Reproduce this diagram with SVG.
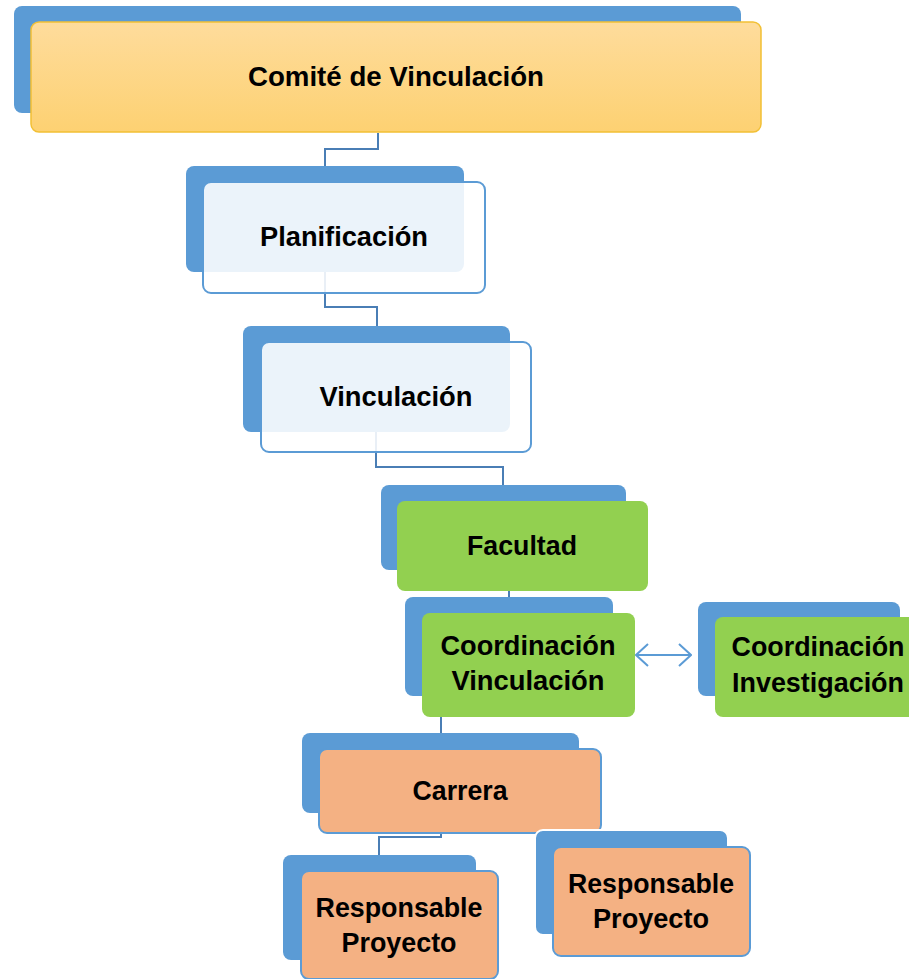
<svg xmlns="http://www.w3.org/2000/svg" width="909" height="979" viewBox="0 0 909 979">
<style>
.back{fill:#5B9BD5}
.glass{fill:#FFFFFF;fill-opacity:0.88;stroke:#5B9BD5;stroke-width:2}
.green{fill:#92D050}
.orange{fill:#F4B183;stroke:#5B9BD5;stroke-width:2}
.conn{fill:none;stroke:#4A7EB5;stroke-width:2}
.t{font-family:"Liberation Sans",Arial,sans-serif;font-weight:bold;font-size:27px;fill:#000;text-anchor:middle}
</style>
<defs>
<linearGradient id="gold" x1="0" y1="0" x2="0" y2="1">
<stop offset="0" stop-color="#FEDC9C"/>
<stop offset="1" stop-color="#FDD172"/>
</linearGradient>
<marker id="ah" viewBox="0 0 14 24" refX="13" refY="12" markerWidth="14" markerHeight="24" markerUnits="userSpaceOnUse" orient="auto-start-reverse">
<path d="M1,1 L13,12 L1,23" fill="none" stroke="#5B9BD5" stroke-width="2"/>
</marker>
</defs>
<g id="connectors">
<path class="conn" d="M378,133 V149 H325 V166"/>
<path class="conn" d="M325,272 V307 H377 V326"/>
<path class="conn" d="M376,432 V467 H503 V485"/>
<path class="conn" d="M509,591 V597"/>
<path class="conn" d="M441,717 V733"/>
<path class="conn" d="M441,813 V837 H379 V855"/>
<path d="M636,655 H691" fill="none" stroke="#5B9BD5" stroke-width="2" marker-start="url(#ah)" marker-end="url(#ah)"/>
</g>
<g id="comite">
<rect class="back" x="14" y="6" width="727" height="107" rx="8"/>
<rect x="31" y="22" width="730" height="110" rx="8" fill="url(#gold)" stroke="#F2C035" stroke-width="1.5"/>
<text class="t" x="396" y="86" textLength="296" lengthAdjust="spacingAndGlyphs">Comité de Vinculación</text>
</g>
<g id="planificacion">
<rect class="back" x="186" y="166" width="278" height="106" rx="8"/>
<rect class="glass" x="203" y="182" width="282" height="111" rx="8"/>
<text class="t" x="344" y="246" textLength="168" lengthAdjust="spacingAndGlyphs">Planificación</text>
</g>
<g id="vinculacion">
<rect class="back" x="243" y="326" width="267" height="106" rx="8"/>
<rect class="glass" x="261" y="342" width="270" height="110" rx="8"/>
<text class="t" x="396" y="406" textLength="153" lengthAdjust="spacingAndGlyphs">Vinculación</text>
</g>
<g id="facultad">
<rect class="back" x="381" y="485" width="245" height="85" rx="8"/>
<rect class="green" x="397" y="501" width="251" height="90" rx="8"/>
<text class="t" x="522" y="555" textLength="110" lengthAdjust="spacingAndGlyphs">Facultad</text>
</g>
<g id="coord-vinculacion">
<rect class="back" x="405" y="597" width="208" height="99" rx="8"/>
<rect class="green" x="422" y="613" width="213" height="104" rx="8"/>
<text class="t" x="528" y="655" textLength="175" lengthAdjust="spacingAndGlyphs">Coordinación</text>
<text class="t" x="528" y="690" textLength="153" lengthAdjust="spacingAndGlyphs">Vinculación</text>
</g>
<g id="coord-investigacion">
<rect class="back" x="698" y="602" width="202" height="94" rx="8"/>
<rect class="green" x="715" y="617" width="210" height="100" rx="8"/>
<text class="t" x="818" y="656" textLength="173" lengthAdjust="spacingAndGlyphs">Coordinación</text>
<text class="t" x="818" y="692" textLength="172" lengthAdjust="spacingAndGlyphs">Investigación</text>
</g>
<g id="carrera">
<rect class="back" x="302" y="733" width="277" height="80" rx="8"/>
<rect class="orange" x="319" y="749" width="282" height="84" rx="8"/>
<text class="t" x="460" y="800" textLength="95" lengthAdjust="spacingAndGlyphs">Carrera</text>
</g>
<g id="responsable-1">
<rect class="back" x="283" y="855" width="193" height="105" rx="8"/>
<rect class="orange" x="301" y="871" width="197" height="108" rx="8"/>
<text class="t" x="399" y="917" textLength="167" lengthAdjust="spacingAndGlyphs">Responsable</text>
<text class="t" x="399" y="952" textLength="115" lengthAdjust="spacingAndGlyphs">Proyecto</text>
</g>
<g id="responsable-2">
<rect class="back" x="535" y="830" width="193" height="105" rx="8" stroke="#FFFFFF" stroke-width="2"/>
<rect class="orange" x="553" y="847" width="197" height="109" rx="8"/>
<text class="t" x="651" y="893" textLength="166" lengthAdjust="spacingAndGlyphs">Responsable</text>
<text class="t" x="651" y="928" textLength="116" lengthAdjust="spacingAndGlyphs">Proyecto</text>
</g>
</svg>
